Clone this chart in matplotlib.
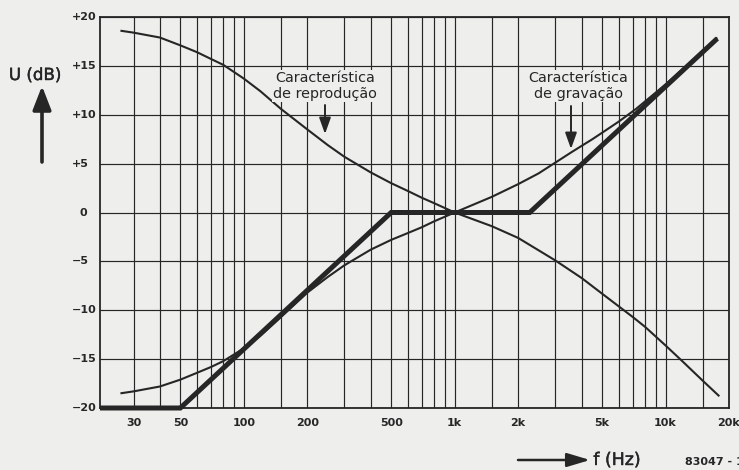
import matplotlib
matplotlib.use("Agg")
import matplotlib.pyplot as plt
from matplotlib import transforms, patheffects
from matplotlib.ticker import FixedLocator, NullFormatter

W, H = 739, 470
BG = "#eeeeec"
INK = "#262626"

# playback ("reprodução") characteristic, dB vs Hz
play_f = [26, 30, 40, 50, 60, 70, 80, 100, 120, 150, 200, 250, 300, 400, 500, 600, 700, 800,
          1000, 1500, 2000, 3000, 4000, 5000, 6000, 7000, 8000, 10000, 12000, 15000, 18000]
play_db = [18.6, 18.4, 17.9, 17.1, 16.4, 15.7, 15.1, 13.7, 12.4, 10.6, 8.5, 6.9, 5.7, 4.1, 3.0,
           2.2, 1.5, 0.95, 0.0, -1.4, -2.6, -4.9, -6.7, -8.3, -9.6, -10.7, -11.7, -13.6,
           -15.2, -17.2, -18.8]

# recording ("gravação") characteristic
rec_f = [26, 30, 40, 50, 60, 70, 80, 100, 120, 150, 200, 250, 300, 400, 500, 600, 700, 800,
         1000, 1500, 2000, 2500, 3000, 3600, 4500, 5200, 6000, 7250, 10000, 13000, 17600]
rec_db = [-18.5, -18.3, -17.8, -17.1, -16.4, -15.8, -15.2, -13.9, -12.6, -10.7, -8.2, -6.6,
          -5.4, -3.8, -2.8, -2.1, -1.5, -0.9, 0.0, 1.6, 2.9, 4.0, 5.1, 6.2, 7.5, 8.4, 9.3,
          10.6, 13.1, 15.3, 17.9]

# straight-line asymptote of the recording curve
asym_f = [20.8, 50, 500, 2270, 17600]
asym_db = [-20, -20, 0, 0, 17.8]

x_ticks = [30, 50, 100, 200, 500, 1000, 2000, 5000, 10000, 20000]
x_labels = ["30", "50", "100", "200", "500", "1k", "2k", "5k", "10k", "20k"]
grid_f = [30, 40, 50, 60, 70, 80, 90, 100, 150, 200, 300, 400, 500, 600, 700, 800, 900,
          1000, 1500, 2000, 3000, 4000, 5000, 6000, 7000, 8000, 9000, 10000, 15000]
y_ticks = [20, 15, 10, 5, 0, -5, -10, -15, -20]
y_labels = ["+20", "+15", "+10", "+5", "0", "\u22125", "\u221210", "\u221215", "\u221220"]

plt.rcParams["font.family"] = ["DejaVu Sans"]

fig = plt.figure(figsize=(W / 100, H / 100), dpi=100, facecolor=BG)
ax = fig.add_axes([100 / W, 1 - 408 / H, 629 / W, 391 / H], facecolor=BG)
ax.set_xscale("log")
ax.set_xlim(20.8, 20000)
ax.set_ylim(-20, 20)

ax.xaxis.set_major_locator(FixedLocator(x_ticks))
ax.xaxis.set_minor_locator(FixedLocator(grid_f))
ax.xaxis.set_minor_formatter(NullFormatter())
ax.set_xticklabels(x_labels)
ax.set_yticks(y_ticks)
ax.set_yticklabels([])
ax.tick_params(which="both", length=0)
ax.tick_params(axis="x", pad=7, labelsize=8, labelcolor=INK)
for lab in ax.get_xticklabels():
    lab.set_fontweight("bold")
ax.grid(which="both", color=INK, lw=0.85)
for sp in ax.spines.values():
    sp.set_color(INK)
    sp.set_linewidth(1.3)

# y tick labels, sign column aligned
bt = transforms.blended_transform_factory(fig.transFigure, ax.transData)
for v, s in zip(y_ticks, y_labels):
    xpx = 80 if v == 0 else 72
    ax.text(xpx / W, v, s, transform=bt, ha="left", va="center",
            fontsize=8, fontweight="bold", color=INK)

ax.plot(play_f, play_db, color=INK, lw=1.5, solid_capstyle="butt",
        solid_joinstyle="round", zorder=3)
ax.plot(rec_f, rec_db, color=INK, lw=1.5, solid_capstyle="butt",
        solid_joinstyle="round", zorder=3)
ax.plot(asym_f, asym_db, color=INK, lw=3.6, solid_capstyle="butt",
        solid_joinstyle="miter", zorder=4, clip_on=False)


def fp(x, y):
    return (x / W, 1 - y / H)


heavy = [patheffects.withStroke(linewidth=0.3, foreground=INK)]

# axis captions
fig.text(*fp(35, 75), "U (dB)", ha="center", va="center", fontsize=12, color=INK,
         path_effects=heavy)
ax.annotate("", xy=fp(42, 86), xytext=fp(42, 162), xycoords="figure fraction",
            textcoords="figure fraction",
            arrowprops=dict(arrowstyle="-|>,head_length=0.9,head_width=0.35",
                            lw=2.6, color=INK, shrinkA=0, shrinkB=0, mutation_scale=16))
fig.text(*fp(617, 460), "f (Hz)", ha="center", va="center", fontsize=12.5, color=INK,
         path_effects=heavy)
ax.annotate("", xy=fp(590, 460), xytext=fp(518, 460), xycoords="figure fraction",
            textcoords="figure fraction",
            arrowprops=dict(arrowstyle="-|>,head_length=1.0,head_width=0.3",
                            lw=1.8, color=INK, shrinkA=0, shrinkB=0, mutation_scale=14))
fig.text(*fp(685, 462), "83047 - 1", ha="left", va="center", fontsize=8,
         fontweight="bold", color=INK)

# curve captions with pointers
ax.text(*fp(325, 86), "Característica\nde reprodução", transform=fig.transFigure,
        ha="center", va="center", fontsize=10.4, color=INK, linespacing=1.22,
        bbox=dict(fc=BG, ec="none", pad=0.5), zorder=5)
ax.annotate("", xy=fp(325, 134), xytext=fp(325, 105), xycoords="figure fraction",
            textcoords="figure fraction",
            arrowprops=dict(arrowstyle="-|>,head_length=0.7,head_width=0.25",
                            lw=1.4, color=INK, shrinkA=0, shrinkB=0, mutation_scale=14))
ax.text(*fp(578, 86), "Característica\nde gravação", transform=fig.transFigure,
        ha="center", va="center", fontsize=10.4, color=INK, linespacing=1.22,
        bbox=dict(fc=BG, ec="none", pad=0.5), zorder=5)
ax.annotate("", xy=fp(571, 149), xytext=fp(571, 106), xycoords="figure fraction",
            textcoords="figure fraction",
            arrowprops=dict(arrowstyle="-|>,head_length=0.7,head_width=0.25",
                            lw=1.4, color=INK, shrinkA=0, shrinkB=0, mutation_scale=14))

fig.savefig("out.png", dpi=100, facecolor=BG)
